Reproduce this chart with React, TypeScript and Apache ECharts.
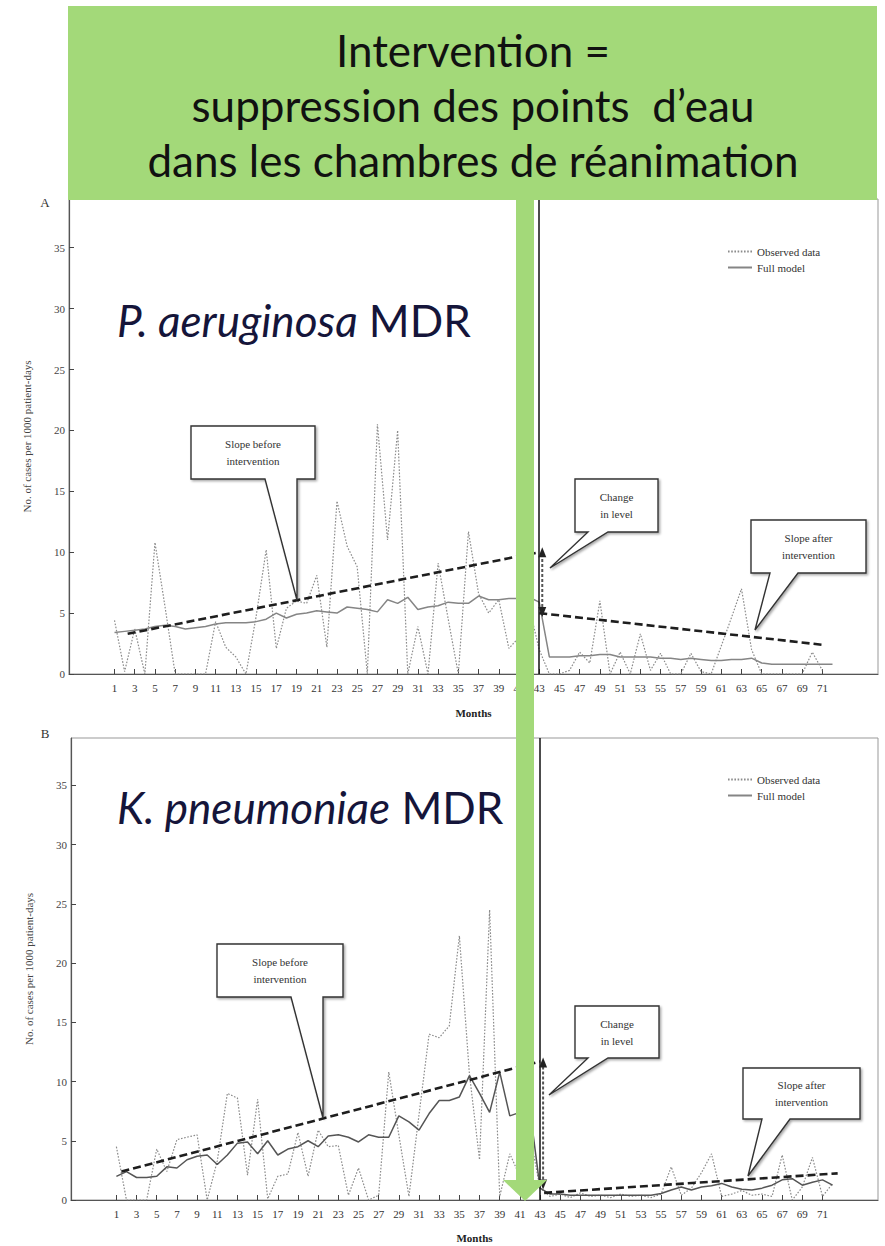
import { useEffect, useRef } from 'react';
import * as echarts from 'echarts';

// ---------- data ----------
const monthLabels = [1, 3, 5, 7, 9, 11, 13, 15, 17, 19, 21, 23, 25, 27, 29, 31, 33, 35, 37, 39, 41, 43, 45, 47, 49, 51, 53, 55, 57, 59, 61, 63, 65, 67, 69, 71];
const yTickValues = [0, 5, 10, 15, 20, 25, 30, 35];

// P. aeruginosa MDR (panel A)
const paObserved = [
  4.4, 0.2, 3.7, 0, 10.8, 5.5, 0, 0, 0, 0,
  4.3, 2.2, 1.4, 0, 4.7, 10.2, 2.1, 5.4, 6.0, 5.8,
  8.1, 2.2, 14.2, 10.5, 8.8, 0, 20.5, 11.0, 20.0, 0,
  3.9, 0, 9.1, 4.5, 0, 11.7, 6.6, 5.0, 6.1, 2.1,
  3.0, 5.5, 2.0, 0, 0, 0.3, 1.8, 0.9, 6.0, 0,
  1.8, 0, 3.3, 0.3, 1.7, 0, 0, 1.7, 0.2, 0,
  2.3, 4.6, 7.0, 2.0, 0, 0, 0, 0, 0, 1.8,
  0.3,
];
const paModel = [
  3.4, 3.5, 3.6, 3.7, 3.9, 4.0, 3.9, 3.7, 3.8, 3.9,
  4.1, 4.2, 4.2, 4.2, 4.3, 4.5, 5.0, 4.6, 4.9, 5.0,
  5.2, 5.1, 5.0, 5.5, 5.4, 5.3, 5.1, 6.1, 5.8, 6.3,
  5.3, 5.5, 5.6, 5.9, 5.8, 5.8, 6.4, 6.1, 6.1, 6.2,
  6.2, 6.3, 5.9, 1.4, 1.4, 1.4, 1.5, 1.5, 1.6, 1.6,
  1.4, 1.4, 1.4, 1.4, 1.3, 1.3, 1.2, 1.3, 1.2, 1.1,
  1.1, 1.2, 1.2, 1.3, 0.9, 0.8, 0.8, 0.8, 0.8, 0.8,
  0.8, 0.8,
];
const paSlopeBefore = [[2.3, 3.3], [43, 10.0]];
const paSlopeAfter = [[43, 5.0], [71, 2.4]];
const paLevelChange = [[43.3, 5.1], [43.3, 10.0]];

// K. pneumoniae MDR (panel B)
const kpObserved = [
  4.5, 0, 0, 0, 4.3, 2.4, 5.1, 5.3, 5.5, 0,
  3.3, 9.0, 8.6, 2.1, 8.5, 0.1, 2.0, 2.2, 5.7, 2.0,
  5.9, 4.5, 4.6, 0.4, 2.7, 0, 0.4, 10.8, 5.5, 0.3,
  7.2, 14.0, 13.7, 14.7, 22.3, 10.6, 3.4, 24.5, 0.3, 3.9,
  2.0, 5.5, 1.0, 0.3, 0.5, 0.2, 0.6, 0.3, 0.4, 0.2,
  0.5, 0.3, 0.4, 0.2, 0.5, 2.8, 0.4, 1.0, 2.3, 3.9,
  0.3, 0.5, 0.8, 0.4, 0.5, 0.3, 3.8, 0, 1.1, 3.6,
  0.3, 1.4,
];
const kpModel = [
  2.0, 2.4, 1.9, 1.9, 2.0, 2.8, 2.7, 3.4, 3.7, 3.8,
  3.0, 3.8, 4.8, 4.9, 3.9, 5.0, 3.8, 4.3, 4.5, 5.0,
  4.5, 5.4, 5.5, 5.3, 4.9, 5.5, 5.3, 5.3, 7.1, 6.6,
  5.9, 7.3, 8.4, 8.4, 8.7, 10.5, 9.0, 7.4, 10.8, 7.1,
  7.4, 7.6, 1.0, 0.5, 0.5, 0.4, 0.4, 0.4, 0.4, 0.4,
  0.4, 0.4, 0.4, 0.4, 0.55, 0.85, 1.1, 0.85, 1.1, 1.2,
  1.4, 1.1, 0.9, 0.85, 1.0, 1.25, 1.7, 1.8, 1.25, 1.5,
  1.7, 1.25,
];
const kpSlopeBefore = [[1.5, 2.4], [43, 11.7]];
const kpSlopeAfter = [[43.4, 0.6], [72.5, 2.25]];
const kpLevelChange = [[43.3, 1.3], [43.3, 11.6]];

const interventionMonth = 43;

// ---------- styling helpers ----------
const SERIF = '"Liberation Serif", "DejaVu Serif", serif';
const SANS = 'Lato, "Open Sans", sans-serif';
const GREEN = '#a3d979';

const toPairs = (vals: number[]) => vals.map((v, i) => [i + 1, v]);

function makeAxes(gridIndex: number) {
  const xAxis = {
    type: 'value', gridIndex, min: -3.5, max: 76.5,
    name: 'Months', nameLocation: 'middle', nameGap: gridIndex === 0 ? 33 : 32,
    nameTextStyle: { fontFamily: SERIF, fontSize: 11, color: '#222', fontWeight: 'bold' },
    axisLine: { onZero: false, lineStyle: { color: '#555', width: 1.2 } },
    axisTick: { inside: true, length: 5, customValues: monthLabels, lineStyle: { color: '#444' } },
    axisLabel: { customValues: monthLabels, fontFamily: SERIF, fontSize: 11, color: '#333', margin: 8 },
    splitLine: { show: false },
  };
  const yAxis = {
    type: 'value', gridIndex, min: 0, max: 39,
    name: 'No. of cases per 1000 patient-days', nameLocation: 'middle', nameGap: 37,
    nameTextStyle: { fontFamily: SERIF, fontSize: 11, color: '#444' },
    axisLine: { show: true, onZero: false, lineStyle: { color: '#555', width: 1.2 } },
    axisTick: { show: true, inside: true, length: 5, customValues: yTickValues, lineStyle: { color: '#444' } },
    axisLabel: { customValues: yTickValues, fontFamily: SERIF, fontSize: 11, color: '#444', margin: 4 },
    splitLine: { show: false },
  };
  return { xAxis, yAxis };
}

function panelSeries(idx: number, observed: number[], model: number[], before: number[][], after: number[][], level: number[][], modelColor: string) {
  return [
    {
      name: 'Observed data', type: 'line', xAxisIndex: idx, yAxisIndex: idx,
      data: toPairs(observed), symbol: 'none', z: 3,
      lineStyle: { color: '#8c8c8c', width: 1.2, type: [1.6, 1.6] }, itemStyle: { color: '#8c8c8c' },
      markLine: {
        silent: true, symbol: ['none', 'none'], label: { show: false },
        lineStyle: { color: '#111', width: 1.5, type: 'solid' },
        data: [{ xAxis: interventionMonth }],
      },
    },
    {
      name: 'Full model', type: 'line', xAxisIndex: idx, yAxisIndex: idx,
      data: toPairs(model), symbol: 'none', z: 4,
      lineStyle: { color: modelColor, width: 1.5 }, itemStyle: { color: modelColor },
    },
    {
      name: 'Slope before', type: 'line', xAxisIndex: idx, yAxisIndex: idx,
      data: before, symbol: 'none', z: 5,
      lineStyle: { color: '#1e1e1e', width: 2.6, type: [8, 4] },
    },
    {
      name: 'Slope after', type: 'line', xAxisIndex: idx, yAxisIndex: idx,
      data: after, symbol: 'none', z: 5,
      lineStyle: { color: '#1e1e1e', width: 2.6, type: [8, 4] },
    },
    {
      name: 'Change in level', type: 'line', xAxisIndex: idx, yAxisIndex: idx, z: 6,
      data: [
        { value: level[0], symbol: 'triangle', symbolRotate: 180 },
        { value: level[1], symbol: 'triangle' },
      ],
      showSymbol: true, symbolSize: [8, 10],
      itemStyle: { color: '#222' },
      lineStyle: { color: '#555', width: 2, type: [3, 2] },
    },
  ];
}

function callout(x: number, y: number, w: number, h: number, b1: number, b2: number, tx: number, ty: number, lines: string[]) {
  return {
    type: 'group', z: 60,
    children: [
      {
        type: 'polygon', z: 60,
        shape: { points: [[x, y], [x + w, y], [x + w, y + h], [b2, y + h], [tx, ty], [b1, y + h], [x, y + h]] },
        style: { fill: '#fff', stroke: '#333', lineWidth: 1.4, shadowBlur: 2, shadowOffsetX: 1.5, shadowOffsetY: 1.5, shadowColor: 'rgba(0,0,0,0.35)' },
      },
      {
        type: 'text', z: 61, x: x + w / 2, y: y + h / 2,
        style: { text: lines.join('\n'), textAlign: 'center', textVerticalAlign: 'middle', fontFamily: SERIF, fontSize: 11, lineHeight: 17, fill: '#333' },
      },
    ],
  };
}

function titleText(y: number, italic: string) {
  return {
    type: 'text', x: 117, y, z: 70,
    style: {
      text: `{i|${italic}}{n| MDR}`, textVerticalAlign: 'middle', fill: '#15153a',
      rich: {
        i: { fontFamily: SANS, fontSize: 44, fontStyle: 'italic', fill: '#15153a' },
        n: { fontFamily: SANS, fontSize: 44, fill: '#15153a' },
      },
    },
  };
}

export default function App() {
  const ref = useRef<HTMLDivElement>(null);
  useEffect(() => {
    if (!ref.current) return;
    const chart = echarts.init(ref.current, null, { renderer: 'svg' });
    const a = makeAxes(0);
    const b = makeAxes(1);
    const legendCommon = {
      orient: 'vertical', itemWidth: 24, itemHeight: 12, itemGap: 5,
      itemStyle: { opacity: 0 },
      textStyle: { fontFamily: SERIF, fontSize: 11, color: '#333' },
      data: ['Observed data', 'Full model'], selectedMode: false,
    };
    chart.setOption({
      animation: false,
      backgroundColor: '#fff',
      grid: [
        { left: 69, top: 199, width: 809, height: 475, show: true, borderColor: '#999', borderWidth: 1 },
        { left: 71, top: 738, width: 807, height: 462, show: true, borderColor: '#999', borderWidth: 1 },
      ],
      xAxis: [a.xAxis, b.xAxis],
      yAxis: [a.yAxis, b.yAxis],
      legend: [
        { ...legendCommon, left: 722, top: 241 },
        { ...legendCommon, left: 722, top: 769 },
      ],
      series: [
        ...panelSeries(0, paObserved, paModel, paSlopeBefore, paSlopeAfter, paLevelChange, '#858585'),
        ...panelSeries(1, kpObserved, kpModel, kpSlopeBefore, kpSlopeAfter, kpLevelChange, '#555'),
      ],
      graphic: [
        // panel letters
        { type: 'text', x: 45, y: 202, z: 70, style: { text: 'A', textAlign: 'center', textVerticalAlign: 'middle', fontFamily: SERIF, fontSize: 13, fill: '#333' } },
        { type: 'text', x: 45, y: 733, z: 70, style: { text: 'B', textAlign: 'center', textVerticalAlign: 'middle', fontFamily: SERIF, fontSize: 13, fill: '#333' } },
        // big organism titles
        titleText(320, 'P. aeruginosa'),
        titleText(807, 'K. pneumoniae'),
        // callouts
        callout(191, 426, 124, 53, 265, 297, 297, 600, ['Slope before', 'intervention']),
        callout(575, 479, 83, 53, 588, 608, 550, 568, ['Change', 'in level']),
        callout(751, 520, 115, 53, 770, 798, 755, 630, ['Slope after', 'intervention']),
        callout(217, 944, 126, 53, 291, 323, 323, 1118, ['Slope before', 'intervention']),
        callout(575, 1006, 84, 52, 588, 608, 549, 1095, ['Change', 'in level']),
        callout(743, 1068, 117, 51, 762, 790, 748, 1176, ['Slope after', 'intervention']),
        // green intervention banner
        { type: 'rect', z: 100, shape: { x: 68, y: 6, width: 809, height: 194 }, style: { fill: GREEN } },
        { type: 'text', z: 101, x: 473, y: 50, style: { text: 'Intervention =', textAlign: 'center', textVerticalAlign: 'middle', fontFamily: SANS, fontSize: 44, fill: '#111' } },
        { type: 'text', z: 101, x: 473, y: 105, style: { text: 'suppression des points  d’eau', textAlign: 'center', textVerticalAlign: 'middle', fontFamily: SANS, fontSize: 44, fill: '#111' } },
        { type: 'text', z: 101, x: 473, y: 160, style: { text: 'dans les chambres de réanimation', textAlign: 'center', textVerticalAlign: 'middle', fontFamily: SANS, fontSize: 44, fill: '#111' } },
        // green arrow
        { type: 'rect', z: 100, shape: { x: 516, y: 199, width: 18, height: 982 }, style: { fill: GREEN } },
        { type: 'polygon', z: 100, shape: { points: [[503, 1180], [547, 1180], [525, 1201]] }, style: { fill: GREEN } },
      ],
    });
    return () => chart.dispose();
  }, []);
  return <div ref={ref} style={{ position: 'absolute', left: 0, top: 0, width: 885, height: 1246 }} />;
}
